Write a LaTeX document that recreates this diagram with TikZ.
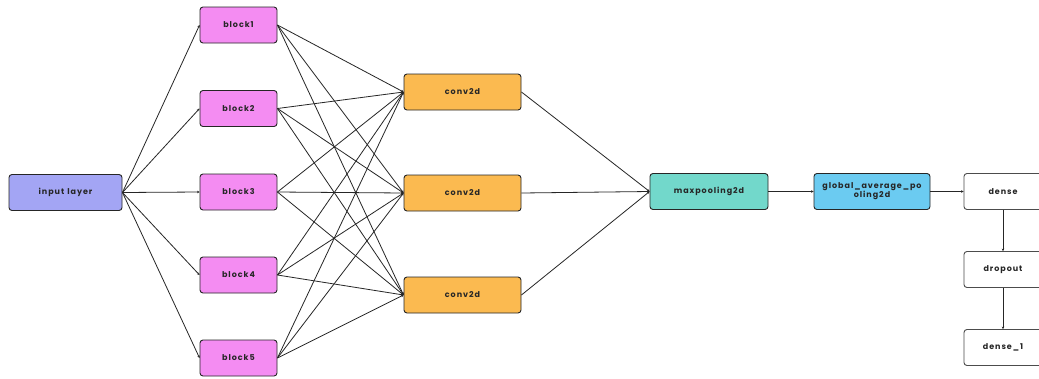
\documentclass[tikz,border=0pt]{standalone}
\usepackage{fontspec}
\setmainfont{Poppins}[LetterSpace=12]
\usetikzlibrary{arrows.meta}
\definecolor{cInput}{HTML}{A3A5F4}
\definecolor{cBlock}{HTML}{F48CF2}
\definecolor{cConv}{HTML}{FBBA50}
\definecolor{cPool}{HTML}{72D8CB}
\definecolor{cGlobal}{HTML}{6BCBF1}
\definecolor{cEdge}{HTML}{262626}
\tikzset{
  layer/.style={draw=cEdge, line width=0.9pt, rounded corners=3pt, align=center,
    font=\fontsize{8}{9}\selectfont\bfseries, text=black!85,
    minimum height=36pt, inner sep=1pt},
  blockbox/.style={layer, fill=cBlock, minimum width=77pt},
  convbox/.style={layer, fill=cConv, minimum width=117pt},
  wire/.style={draw=cEdge, line width=0.8pt, -{Stealth[length=2.5pt,width=2.5pt]}},
}
\begin{document}
\begin{tikzpicture}[x=1pt,y=-1pt]
\useasboundingbox[fill=white] (0,0) rectangle (1039,378);

% input and parallel blocks
\node[layer, fill=cInput, minimum width=113pt] (inp) at (65.5,192.5) {input\hspace{3pt}layer};
\node[blockbox] (b1) at (238.5,25)  {block1};
\node[blockbox] (b2) at (238.5,108.5) {block2};
\node[blockbox] (b3) at (238.5,192) {block3};
\node[blockbox] (b4) at (238.5,275) {block4};
\node[blockbox] (b5) at (238.5,358) {block5};

% convolution layers
\node[convbox] (c1) at (462.5,92)  {conv2d};
\node[convbox] (c2) at (462.5,193) {conv2d};
\node[convbox] (c3) at (462.5,295) {conv2d};

% head
\node[layer, fill=cPool, minimum width=118pt] (mp) at (709,191.5) {maxpooling2d};
\node[layer, fill=cGlobal, minimum width=116pt] (gap) at (872,191.5) {global\_average\_po\\oling2d};
\node[layer, fill=white, draw=black!70, minimum width=78pt] (d0) at (1003,191.5) {dense};
\node[layer, fill=white, draw=black!70, minimum width=78pt] (dr) at (1003,269.5) {dropout};
\node[layer, fill=white, draw=black!70, minimum width=78pt] (d1) at (1003,347.5) {dense\_1};

% connections
\foreach \b in {b1,b2,b3,b4,b5}
  \draw[wire] (inp.east) -- (\b.west);
\foreach \b in {b1,b2,b3,b4,b5}
  \foreach \c in {c1,c2,c3}
    \draw[wire] (\b.east) -- (\c.west);
\foreach \c in {c1,c2,c3}
  \draw[wire] (\c.east) -- (mp.west);
\draw[wire] (mp.east) -- (gap.west);
\draw[wire] (gap.east) -- (d0.west);
\draw[wire] (d0.south) -- (dr.north);
\draw[wire] (dr.south) -- (d1.north);
\end{tikzpicture}
\end{document}
